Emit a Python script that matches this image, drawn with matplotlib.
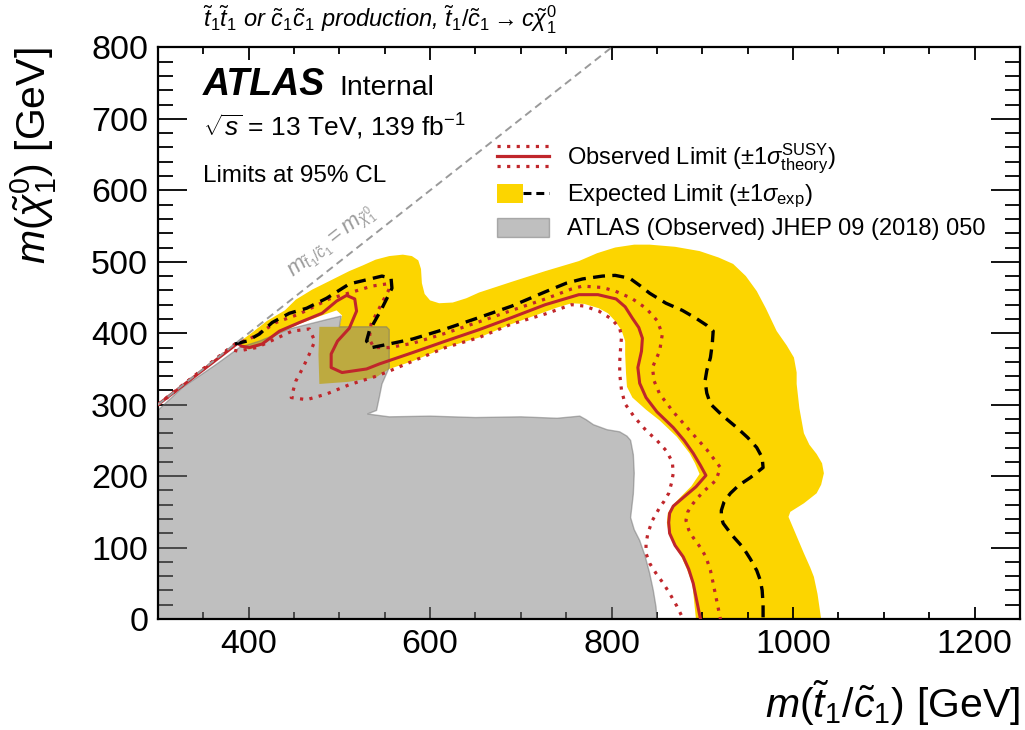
import numpy as np
import matplotlib
matplotlib.use("Agg")
import matplotlib.pyplot as plt
from matplotlib.patches import Patch
from matplotlib.lines import Line2D
from matplotlib.legend_handler import HandlerBase, HandlerTuple

plt.rcParams['font.family'] = ['Liberation Sans', 'DejaVu Sans']
plt.rcParams['mathtext.fontset'] = 'custom'
plt.rcParams['mathtext.rm'] = 'Liberation Sans'
plt.rcParams['mathtext.it'] = 'Liberation Sans:italic'
plt.rcParams['mathtext.bf'] = 'Liberation Sans:bold'

# expected +-1 sigma band: outer edge (left to right, down to y=0) ...
band_out_x = [388, 405, 420, 440, 452, 470, 489, 511, 526, 540, 555, 570, 580, 587, 590, 591, 594, 600, 610, 625, 640, 654, 690, 727, 764, 784, 804, 825, 842, 870, 897, 918, 934, 948, 960, 970, 982, 993, 1001, 1004, 1004, 1007, 1012, 1018, 1026, 1032, 1034, 1031, 1026, 1012, 997, 995, 1000, 1012, 1019, 1023, 1027, 1031]
band_out_y = [386, 402, 417, 432, 447, 461, 473, 487, 495, 503, 508, 510, 508, 502, 490, 470, 455, 446, 442, 443, 449, 457, 472, 487, 501, 512, 520, 524, 524, 521, 515, 506, 497, 480, 459, 435, 403, 383, 366, 345, 329, 295, 260, 244, 231, 218, 204, 188, 176, 162, 150, 143, 128, 92, 72, 59, 35, 0]
# ... and inner edge (from y=0 back up to the start)
band_in_x = [893, 891, 889, 883, 877, 869, 863, 861, 862, 868, 877, 888, 897, 892, 886, 872, 853, 838, 823, 817, 816, 815, 815, 811, 804, 796, 786, 770, 756, 740, 727, 690, 654, 617, 581, 555, 540, 510, 478, 477, 478, 500, 503, 497, 481, 456, 434, 415, 400, 390]
band_in_y = [0, 25, 50, 70, 87, 103, 120, 135, 148, 160, 172, 186, 203, 218, 232, 255, 278, 293, 310, 325, 343, 370, 389, 404, 417, 428, 435, 441, 442, 436, 430, 413, 394, 380, 361, 350, 338, 332, 329, 370, 409, 409, 425, 432, 425, 413, 400, 383, 377, 383]

# expected limit
exp_x = [385, 398, 412, 426, 445, 464, 486, 511, 547, 557, 558, 547, 533, 530, 536, 555, 581, 617, 654, 690, 727, 750, 768, 790, 804, 820, 832, 842, 860, 878, 893, 905, 912, 911, 909, 905, 903, 905, 909, 922, 938, 950, 960, 966, 967, 960, 953, 940, 931, 924, 921, 921, 923, 933, 945, 953, 960, 964, 966, 967, 967]
exp_y = [385, 389, 399, 415, 428, 435, 449, 469, 480, 477, 463, 435, 403, 389, 380, 385, 392, 406, 422, 438, 458, 470, 476, 480, 481, 477, 466, 456, 442, 432, 421, 411, 403, 385, 366, 348, 333, 316, 301, 285, 268, 254, 240, 226, 212, 205, 198, 187, 176, 164, 152, 143, 134, 117, 100, 84, 68, 54, 40, 20, 0]

# observed limit and theory +-1 sigma
obs_x = [300, 388, 392, 401, 415, 434, 456, 481, 497, 508, 517, 519, 511, 498, 491, 491, 503, 530, 544, 581, 617, 654, 690, 727, 764, 785, 805, 815, 823, 830, 834, 833, 829, 831, 838, 850, 868, 880, 890, 898, 904, 893, 879, 868, 864, 863, 864, 870, 879, 885, 890, 894, 898]
obs_y = [300, 386, 382, 380, 385, 403, 415, 428, 445, 453, 448, 431, 407, 389, 371, 352, 345, 350, 357, 373, 389, 405, 422, 440, 454, 454, 448, 437, 421, 408, 393, 375, 352, 330, 310, 290, 268, 250, 232, 215, 201, 185, 170, 158, 148, 135, 120, 103, 87, 70, 50, 25, 0]
obs_up_x = [300, 385, 401, 412, 430, 456, 489, 536, 552, 555, 544, 535, 533, 538, 555, 581, 617, 654, 690, 727, 756, 768, 790, 804, 822, 838, 850, 856, 853, 845, 847, 853, 868, 886, 905, 920, 915, 900, 890, 884, 882, 885, 890, 898, 904, 909, 912, 916, 920]
obs_up_y = [300, 385, 392, 400, 415, 427, 448, 466, 469, 462, 435, 413, 392, 380, 380, 386, 400, 416, 432, 448, 462, 466, 464, 459, 449, 435, 418, 399, 375, 352, 333, 315, 290, 264, 237, 212, 194, 177, 162, 150, 138, 125, 114, 100, 87, 68, 50, 25, 0]
obs_dn_x = [300, 378, 388, 409, 431, 448, 467, 473, 467, 460, 452, 447, 464, 486, 511, 541, 555, 581, 617, 654, 690, 727, 756, 770, 786, 800, 809, 811, 810, 809, 809, 811, 815, 825, 838, 850, 860, 867, 868, 866, 863, 858, 853, 845, 840, 838, 838, 842, 849, 857, 864, 872, 879]
obs_dn_y = [300, 378, 375, 380, 393, 403, 406, 389, 371, 352, 333, 310, 307, 315, 328, 340, 347, 361, 380, 394, 413, 427, 440, 438, 431, 420, 407, 395, 380, 360, 343, 320, 301, 283, 264, 250, 236, 220, 204, 190, 176, 165, 156, 138, 120, 105, 92, 78, 64, 50, 36, 18, 0]

# previous ATLAS result (JHEP 09 (2018) 050)
prev_x = [300, 300, 327, 365, 390, 412, 445, 467, 489, 502, 500, 552, 555, 555, 547, 544, 541, 531, 555, 600, 650, 700, 740, 765, 772, 780, 795, 809, 817, 821, 824, 825, 824, 821, 825, 831, 837, 842, 846, 849, 850]
prev_y = [0, 292, 324, 357, 380, 389, 406, 413, 420, 424, 409, 409, 405, 352, 329, 310, 292, 287, 283, 284, 282, 283, 281, 284, 279, 272, 265, 262, 256, 250, 230, 204, 175, 142, 125, 110, 88, 64, 40, 17, 0]

YELLOW = '#fcd500'
RED = '#c0262b'

fig = plt.figure(figsize=(10.25, 7.3), dpi=100)
ax = fig.add_axes([0.154, 0.152, 0.841, 0.783])

ax.fill(band_out_x + band_in_x, band_out_y + band_in_y, color=YELLOW, lw=0, zorder=1)
ax.fill(prev_x, prev_y, facecolor='#808080', edgecolor='#707070', alpha=0.5, lw=1, zorder=2)

dot = (0, (1, 2))
ax.plot(obs_up_x, obs_up_y, color=RED, lw=2.3, ls=dot, dash_capstyle='butt', zorder=3)
ax.plot(obs_dn_x, obs_dn_y, color=RED, lw=2.3, ls=dot, dash_capstyle='butt', zorder=3)
ax.plot(obs_x, obs_y, color=RED, lw=2.2, zorder=4, solid_joinstyle='round')
ax.plot(exp_x, exp_y, color='black', lw=2.4, dashes=(3.6, 2.2), zorder=4)

# kinematic limit
ax.plot([300, 800], [300, 800], color='#9a9a9a', lw=1.4, dashes=(4, 2.5), zorder=5)
ax.text(449, 478, r"$m_{\tilde{t}_1/\tilde{c}_1} = m_{\tilde{\chi}^0_1}$", color='#9a9a9a',
        fontsize=16, rotation=45, transform_rotates_text=True, rotation_mode='anchor',
        ha='left', va='baseline')

ax.set_xlim(300, 1250)
ax.set_ylim(0, 800)
ax.set_xticks(range(400, 1201, 200))
ax.set_xticks(range(300, 1251, 50), minor=True)
ax.set_yticks(range(0, 801, 100))
ax.set_yticks(range(0, 801, 20), minor=True)
ax.tick_params(axis='both', which='both', direction='in', top=True, right=True,
               labelsize=24.5, width=1.3, pad=7)
ax.tick_params(axis='x', which='major', length=9)
ax.tick_params(axis='x', which='minor', length=5)
ax.tick_params(axis='y', which='major', length=21)
ax.tick_params(axis='y', which='minor', length=11)
for s in ax.spines.values():
    s.set_linewidth(1.6)

ax.set_xlabel(r"$m(\tilde{t}_1/\tilde{c}_1)$ [GeV]", fontsize=29.5, loc='right')
ax.set_ylabel(r"$m(\tilde{\chi}^0_1)$ [GeV]", fontsize=29.5, loc='top')
ax.xaxis.set_label_coords(1.0, -0.105)
ax.yaxis.set_label_coords(-0.115, 1.0)

ax.text(0.052, 1.035, r"$\tilde{t}_1\tilde{t}_1$ or $\tilde{c}_1\tilde{c}_1$ production, "
        r"$\tilde{t}_1/\tilde{c}_1 \rightarrow c\tilde{\chi}^0_1$",
        transform=ax.transAxes, fontsize=17, style='italic', ha='left', va='baseline')

ax.text(0.052, 0.916, "ATLAS", transform=ax.transAxes, fontsize=27, fontweight='bold',
        style='italic', ha='left', va='baseline')
ax.text(0.211, 0.916, "Internal", transform=ax.transAxes, fontsize=20.5, ha='left', va='baseline')
ax.text(0.052, 0.845, r"$\sqrt{s}$ = 13 TeV, 139 fb$^{-1}$", transform=ax.transAxes,
        fontsize=19, ha='left', va='baseline')
ax.text(0.052, 0.765, "Limits at 95% CL", transform=ax.transAxes, fontsize=17.5,
        ha='left', va='baseline')


class ObsHandler(HandlerBase):
    def create_artists(self, legend, orig_handle, xdescent, ydescent, width, height,
                       fontsize, trans):
        yc = height / 2 - ydescent
        arts = []
        for dy, ls in [(-7, dot), (0, '-'), (7, dot)]:
            ln = Line2D([-xdescent, width - xdescent], [yc + dy, yc + dy], color=RED,
                        lw=2.3, ls=ls, dash_capstyle='butt', transform=trans)
            arts.append(ln)
        return arts


obs_h = object()
exp_h = (Patch(facecolor=YELLOW, edgecolor='none'),
         Line2D([], [], color='black', lw=2.2, dashes=(2.6, 1.6)))
prev_h = Patch(facecolor='#808080', edgecolor='#707070', alpha=0.5)
leg = ax.legend([obs_h, exp_h, prev_h],
                [r"Observed Limit ($\pm1\sigma^{\mathrm{SUSY}}_{\mathrm{theory}}$)",
                 r"Expected Limit ($\pm1\sigma_{\mathrm{exp}}$)",
                 "ATLAS (Observed) JHEP 09 (2018) 050"],
                handler_map={obs_h: ObsHandler(), tuple: HandlerTuple(ndivide=None)},
                loc='upper left', bbox_to_anchor=(0.394, 0.835), frameon=False,
                fontsize=17, handlelength=2.2, handleheight=0.9, handletextpad=0.75,
                labelspacing=0.3, borderaxespad=0, borderpad=0)

fig.savefig("out.png", dpi=100)
